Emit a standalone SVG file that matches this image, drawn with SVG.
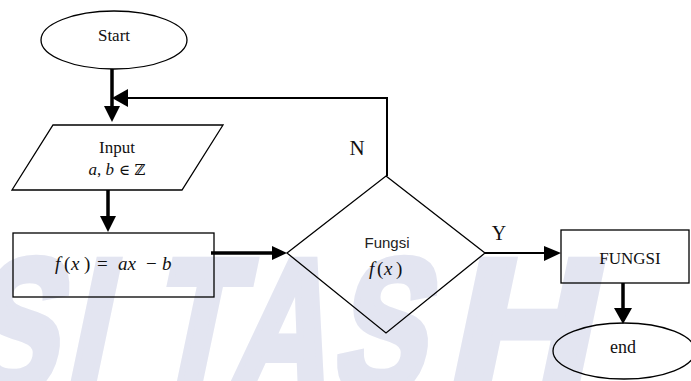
<svg xmlns="http://www.w3.org/2000/svg" width="691" height="381" viewBox="0 0 691 381">
  <defs>
    <style>
      .shape { fill: none; stroke: #000; stroke-width: 1.3; }
      .serif { font-family: "Liberation Serif", "Times New Roman", serif; fill: #111; }
      .math { font-family: "Liberation Serif", "DejaVu Serif", serif; font-style: italic; fill: #111; }
      .up { font-style: normal; }
      .sans { font-family: "Liberation Sans", Arial, sans-serif; fill: #222; }
      .thick { stroke: #000; stroke-width: 3.5; fill: none; }
      .thin { stroke: #000; stroke-width: 2; fill: none; }
      .mark { font-family: "Liberation Sans", Arial, sans-serif; font-weight: bold; font-size: 190px; fill: #e3e5f1; stroke: #e3e5f1; stroke-width: 9; stroke-linejoin: miter; }
    </style>
  </defs>

  <rect width="691" height="381" fill="#fff"/>

  <!-- background watermark lettering -->
  <g id="watermark">
    <text class="mark" transform="matrix(0.72,0,-0.21,1,0,0)">
      <tspan x="61" y="392">S</tspan><tspan x="201" y="392">I</tspan><tspan x="317" y="392">T</tspan><tspan x="428" y="392">A</tspan><tspan x="572" y="392">S</tspan>
    </text>
    <text class="mark" transform="matrix(1.05,0,-0.21,1,0,0)" x="500" y="392">H</text>
  </g>

  <!-- connectors -->
  <g id="connectors">
    <line class="thick" x1="112" y1="69" x2="112" y2="106"/>
    <path d="M104,106 L120,106 L112,122 Z" fill="#000"/>
    <polyline class="thin" points="387,176 387,98 128,98"/>
    <path d="M128,89 L128,107 L112,98 Z" fill="#000"/>
    <line class="thick" x1="108" y1="190" x2="108" y2="216"/>
    <path d="M100,216 L116,216 L108,232 Z" fill="#000"/>
    <line class="thick" x1="211" y1="253" x2="272" y2="253"/>
    <path d="M272,246 L272,260 L287,253 Z" fill="#000"/>
    <line class="thin" x1="485" y1="253" x2="544" y2="253"/>
    <path d="M544,246 L544,261 L561,253 Z" fill="#000"/>
    <line class="thick" x1="623" y1="283" x2="623" y2="308"/>
    <path d="M614,308 L632,308 L623,324 Z" fill="#000"/>
    <text class="serif" x="357" y="155" font-size="21" text-anchor="middle">N</text>
    <text class="serif" x="499" y="240" font-size="20" text-anchor="middle">Y</text>
  </g>

  <g id="start">
    <ellipse class="shape" cx="114" cy="40" rx="73" ry="29"/>
    <text class="serif" x="114" y="41" font-size="17" text-anchor="middle">Start</text>
  </g>

  <g id="input">
    <polygon class="shape" points="53,125 223,125 182,190 12,190"/>
    <text class="serif" x="117" y="153" font-size="17" text-anchor="middle">Input</text>
    <text x="117" y="175" font-size="17" text-anchor="middle"><tspan class="math">a</tspan><tspan class="serif">, </tspan><tspan class="math">b</tspan><tspan font-family="DejaVu Serif, serif" fill="#111" font-size="15"> ∈ ℤ</tspan></text>
  </g>

  <g id="compute">
    <rect class="shape" x="13" y="233" width="201" height="64"/>
    <text class="math" y="270" font-size="19"><tspan x="55">f</tspan><tspan class="up" x="64">(</tspan><tspan x="71">x</tspan><tspan class="up" x="84">)</tspan><tspan class="up" x="97">=</tspan><tspan x="118">ax</tspan><tspan class="up" x="146">−</tspan><tspan x="162">b</tspan></text>
  </g>

  <g id="decision">
    <polygon class="shape" points="386,176 485,253 386,333 287,253"/>
    <text class="sans" x="387" y="248" font-size="15" text-anchor="middle">Fungsi</text>
    <text class="math" y="275" font-size="19"><tspan x="369">f</tspan><tspan class="up" x="377">(</tspan><tspan x="384">x</tspan><tspan class="up" x="396">)</tspan></text>
  </g>

  <g id="fungsi">
    <rect class="shape" x="561" y="230" width="128" height="53"/>
    <text class="serif" x="630" y="264" font-size="17" text-anchor="middle">FUNGSI</text>
  </g>

  <g id="end">
    <ellipse class="shape" cx="624" cy="351" rx="71" ry="28"/>
    <text class="serif" x="623" y="353" font-size="18" text-anchor="middle">end</text>
  </g>
</svg>
